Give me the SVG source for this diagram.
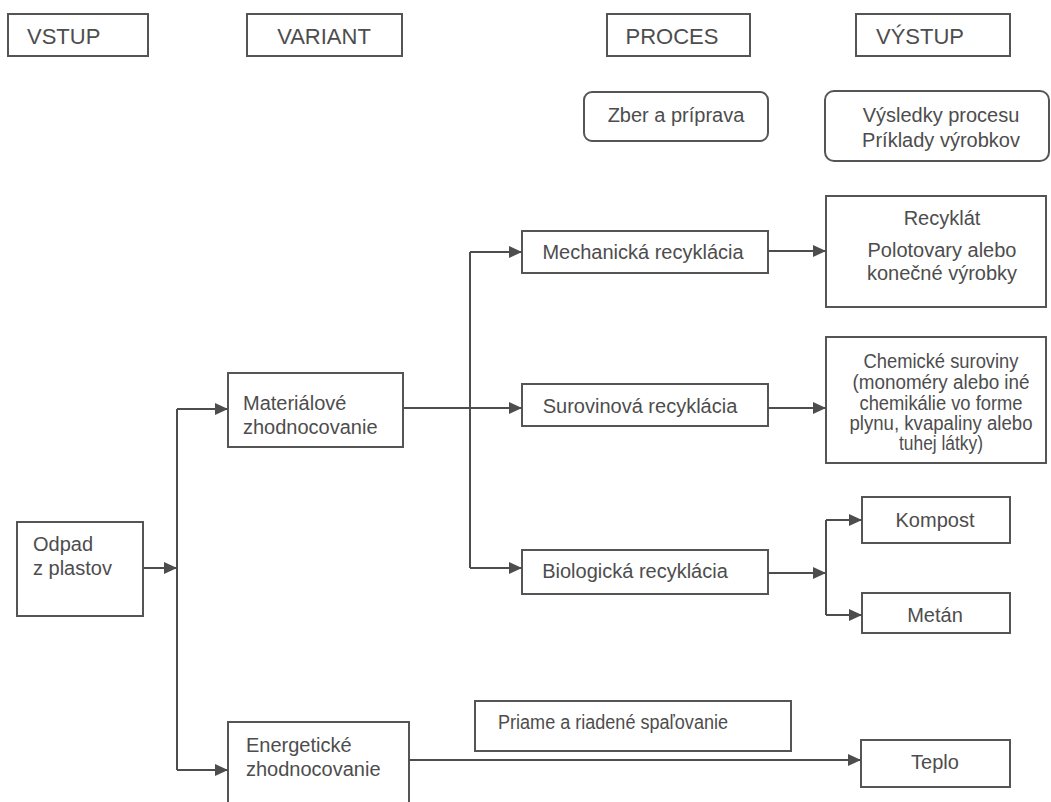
<svg xmlns="http://www.w3.org/2000/svg" width="1051" height="802" viewBox="0 0 1051 802">
<style>
.box{fill:#fff;stroke:#555;stroke-width:2}
.t{font-family:"Liberation Sans",Arial,sans-serif;font-size:20px;fill:#4d4d4d}
.h{font-size:22px}
.c{text-anchor:middle}
.ln{fill:none;stroke:#4d4d4d;stroke-width:2}
</style>
<defs>
<marker id="a" markerUnits="userSpaceOnUse" markerWidth="13" markerHeight="12" refX="13" refY="6" orient="auto">
<path d="M0,0 L13,6 L0,12 z" fill="#4d4d4d"/>
</marker>
</defs>
<rect width="1051" height="802" fill="#fff"/>
<g id="vstup"><rect class="box" x="8" y="14" width="140" height="42"/><text class="t h" x="27" y="44">VSTUP</text></g>
<g id="variant"><rect class="box" x="247" y="14" width="155" height="42"/><text class="t h c" x="324" y="44">VARIANT</text></g>
<g id="proces"><rect class="box" x="607" y="14" width="143" height="42"/><text class="t h c" x="672" y="44">PROCES</text></g>
<g id="vystup"><rect class="box" x="856" y="14" width="154" height="42"/><text class="t h c" x="920" y="44">VÝSTUP</text></g>
<g id="zber"><rect class="box" x="584" y="92" width="184" height="49" rx="8"/><text class="t c" x="676" y="122">Zber a príprava</text></g>
<g id="vysledky"><rect class="box" x="825" y="91" width="224" height="70" rx="9"/><text class="t c" x="941" y="122">Výsledky procesu</text><text class="t c" x="941" y="147">Príklady výrobkov</text></g>
<g id="odpad"><rect class="box" x="17" y="522" width="126" height="94"/><text class="t" x="33" y="551">Odpad</text><text class="t" x="33" y="575">z plastov</text></g>
<g id="materialove"><rect class="box" x="228" y="373" width="175" height="74"/><text class="t" x="243" y="410">Materiálové</text><text class="t" x="243" y="434">zhodnocovanie</text></g>
<g id="energeticke"><rect class="box" x="228" y="722" width="181" height="95"/><text class="t" x="246" y="752">Energetické</text><text class="t" x="246" y="776">zhodnocovanie</text></g>
<g id="mechanicka"><rect class="box" x="522" y="231" width="246" height="42"/><text class="t c" x="643" y="259">Mechanická recyklácia</text></g>
<g id="surovinova"><rect class="box" x="522" y="384" width="246" height="42"/><text class="t c" x="640" y="413">Surovinová recyklácia</text></g>
<g id="biologicka"><rect class="box" x="522" y="550" width="246" height="44"/><text class="t c" x="635" y="578">Biologická recyklácia</text></g>
<g id="priame"><rect class="box" x="475" y="701" width="316" height="50"/><text class="t c" x="613" y="729" textLength="230" lengthAdjust="spacingAndGlyphs">Priame a riadené spaľovanie</text></g>
<g id="recyklat"><rect class="box" x="826" y="196" width="220" height="111"/><text class="t c" x="942" y="225">Recyklát</text><text class="t c" x="942" y="257">Polotovary alebo</text><text class="t c" x="942" y="280">konečné výrobky</text></g>
<g id="chemicke"><rect class="box" x="826" y="337" width="220" height="126"/>
<text class="t c" x="941" y="368" textLength="155" lengthAdjust="spacingAndGlyphs">Chemické suroviny</text>
<text class="t c" x="941" y="389" textLength="177" lengthAdjust="spacingAndGlyphs">(monoméry alebo iné</text>
<text class="t c" x="941" y="410" textLength="163" lengthAdjust="spacingAndGlyphs">chemikálie vo forme</text>
<text class="t c" x="941" y="430" textLength="183" lengthAdjust="spacingAndGlyphs">plynu, kvapaliny alebo</text>
<text class="t c" x="941" y="450" textLength="84" lengthAdjust="spacingAndGlyphs">tuhej látky)</text></g>
<g id="kompost"><rect class="box" x="862" y="497" width="148" height="46"/><text class="t c" x="935" y="527">Kompost</text></g>
<g id="metan"><rect class="box" x="862" y="593" width="148" height="40"/><text class="t c" x="935" y="622">Metán</text></g>
<g id="teplo"><rect class="box" x="861" y="740" width="149" height="47"/><text class="t c" x="935" y="769">Teplo</text></g>
<g id="connectors">
<path class="ln" d="M143,568 H177" marker-end="url(#a)"/>
<path class="ln" d="M177,409 V770"/>
<path class="ln" d="M177,409 H228" marker-end="url(#a)"/>
<path class="ln" d="M177,770 H228" marker-end="url(#a)"/>
<path class="ln" d="M403,408 H522" marker-end="url(#a)"/>
<path class="ln" d="M470,252 V568"/>
<path class="ln" d="M470,252 H522" marker-end="url(#a)"/>
<path class="ln" d="M470,568 H522" marker-end="url(#a)"/>
<path class="ln" d="M768,251 H826" marker-end="url(#a)"/>
<path class="ln" d="M768,408 H826" marker-end="url(#a)"/>
<path class="ln" d="M768,573 H826" marker-end="url(#a)"/>
<path class="ln" d="M826,520 V615"/>
<path class="ln" d="M826,520 H862" marker-end="url(#a)"/>
<path class="ln" d="M826,615 H862" marker-end="url(#a)"/>
<path class="ln" d="M409,760 H861" marker-end="url(#a)"/>
</g>
</svg>
